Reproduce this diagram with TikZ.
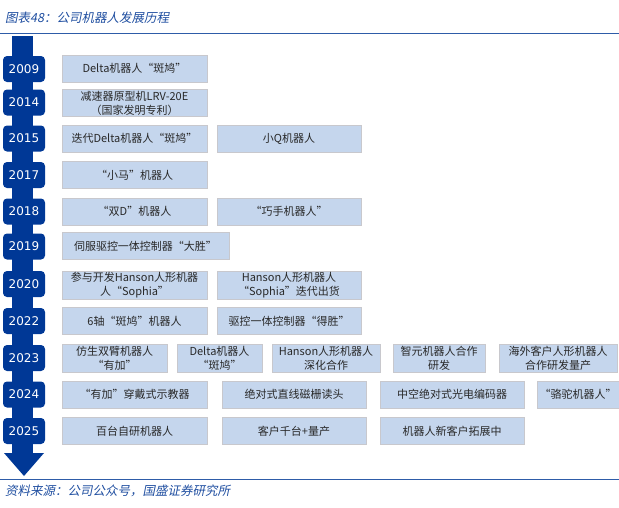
\documentclass[tikz,border=0pt]{standalone}
\usepackage{fontspec}
\setmainfont{DejaVu Sans}
\newfontfamily\cjk{Noto Sans CJK SC}
\newfontfamily\cjkit{Noto Sans CJK SC}[FakeSlant=0.2]
\newfontfamily\yearfont{DejaVu Sans}
\definecolor{spine}{RGB}{0,56,150}
\definecolor{boxfill}{RGB}{197,214,237}
\definecolor{boxedge}{RGB}{200,200,205}
\definecolor{txt}{RGB}{40,40,40}
\definecolor{titleblue}{RGB}{31,78,160}
\definecolor{lineblue}{RGB}{46,92,168}
\begin{document}
\begin{tikzpicture}[x=1pt,y=-1pt,
  yearbox/.style={fill=spine, rounded corners=4pt, minimum width=42pt, minimum height=26pt, inner sep=0pt, text=white, font=\yearfont\fontsize{12}{14}\selectfont},
  cbox/.style={fill=boxfill, draw=boxedge, line width=0.6pt, minimum height=27pt, inner sep=1pt, align=center, font=\cjk\fontsize{11}{14}\selectfont, text=txt},
  hdr/.style={anchor=west, inner sep=0pt, text=titleblue}]
\useasboundingbox (0,0) rectangle (619,507);
% title and rules
\node[hdr, font=\cjkit\fontsize{12.5}{14}\selectfont] (title) at (5,18) {图表48：公司机器人发展历程};
\draw[lineblue, line width=1pt] (0,33) -- (619,33);
\draw[lineblue, line width=1pt] (0,479) -- (619,479);
\node[hdr, font=\cjkit\fontsize{12.5}{14}\selectfont] (source) at (5,491) {资料来源：公司公众号，国盛证券研究所};
% spine with arrow head
\fill[spine] (12,36) rectangle (33,454);
\fill[spine] (4,453) -- (44,453) -- (24,476) -- cycle;
% years
\node[yearbox] (y2009) at (24,69) {2009};
\node[yearbox] (y2014) at (24,102.5) {2014};
\node[yearbox] (y2015) at (24,138.5) {2015};
\node[yearbox] (y2017) at (24,175) {2017};
\node[yearbox] (y2018) at (24,211.5) {2018};
\node[yearbox] (y2019) at (24,246.5) {2019};
\node[yearbox] (y2020) at (24,284) {2020};
\node[yearbox] (y2022) at (24,321) {2022};
\node[yearbox] (y2023) at (24,358) {2023};
\node[yearbox] (y2024) at (24,394.5) {2024};
\node[yearbox] (y2025) at (24,431) {2025};
% 2009
\node[cbox, minimum width=145pt] (a2009) at (134.5,68.5) {Delta机器人“斑鸠”};
% 2014
\node[cbox, minimum width=145pt] (a2014) at (134.5,103) {减速器原型机LRV-20E\\（国家发明专利）};
% 2015
\node[cbox, minimum width=145pt] (a2015) at (134.5,138.5) {迭代Delta机器人“斑鸠”};
\node[cbox, minimum width=144pt] (b2015) at (289,138.5) {小Q机器人};
% 2017
\node[cbox, minimum width=145pt] (a2017) at (134.5,175) {“小马”机器人};
% 2018
\node[cbox, minimum width=145pt] (a2018) at (134.5,211.5) {“双D”机器人};
\node[cbox, minimum width=144pt] (b2018) at (289,211.5) {“巧手机器人”};
% 2019
\node[cbox, minimum width=167pt] (a2019) at (145.5,246) {伺服驱控一体控制器“大胜”};
% 2020
\node[cbox, minimum width=145pt, minimum height=28pt] (a2020) at (134.5,285) {参与开发Hanson人形机器\\人“Sophia”};
\node[cbox, minimum width=144pt, minimum height=28pt] (b2020) at (289,285) {Hanson人形机器人\\“Sophia”迭代出货};
% 2022
\node[cbox, minimum width=145pt] (a2022) at (134.5,321) {6轴“斑鸠”机器人};
\node[cbox, minimum width=144pt] (b2022) at (289,321) {驱控一体控制器“得胜”};
% 2023
\node[cbox, minimum width=105pt, minimum height=28pt] (a2023) at (114.5,358) {仿生双臂机器人\\“有加”};
\node[cbox, minimum width=85pt, minimum height=28pt] (b2023) at (219.5,358) {Delta机器人\\“斑鸠”};
\node[cbox, minimum width=108pt, minimum height=28pt] (c2023) at (326,358) {Hanson人形机器人\\深化合作};
\node[cbox, minimum width=92pt, minimum height=28pt] (d2023) at (439,358) {智元机器人合作\\研发};
\node[cbox, minimum width=118pt, minimum height=28pt] (e2023) at (558,358) {海外客户人形机器人\\合作研发量产};
% 2024
\node[cbox, minimum width=145pt] (a2024) at (134.5,394.5) {“有加”穿戴式示教器};
\node[cbox, minimum width=144pt] (b2024) at (294,394.5) {绝对式直线磁栅读头};
\node[cbox, minimum width=144pt] (c2024) at (452,394.5) {中空绝对式光电编码器};
\node[cbox, minimum width=82pt] (d2024) at (578,394.5) {“骆驼机器人”};
% 2025
\node[cbox, minimum width=145pt] (a2025) at (134.5,431) {百台自研机器人};
\node[cbox, minimum width=144pt] (b2025) at (294,431) {客户千台+量产};
\node[cbox, minimum width=144pt] (c2025) at (452,431) {机器人新客户拓展中};
\end{tikzpicture}
\end{document}
